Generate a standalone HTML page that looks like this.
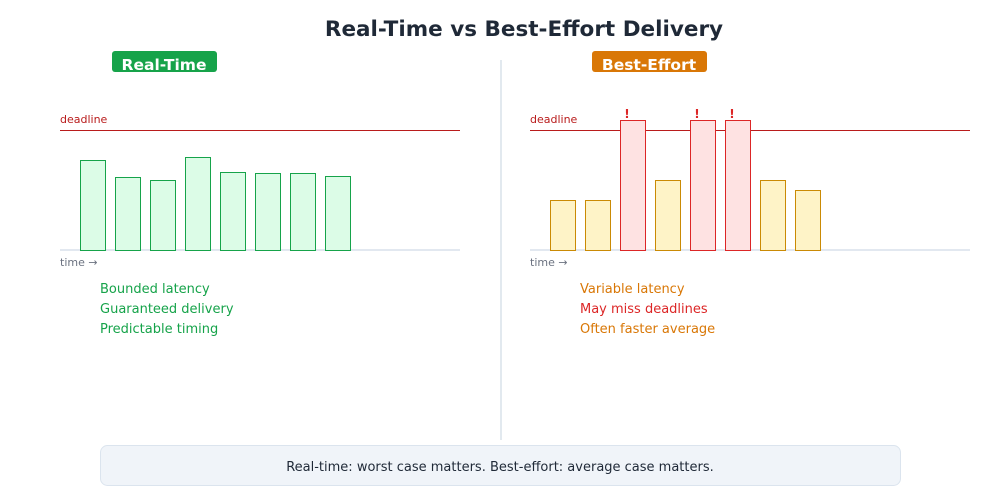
<!DOCTYPE html>
<html><head><meta charset="utf-8"><style>
body{margin:0;background:#fff;font-family:"DejaVu Sans","Liberation Sans",sans-serif}
svg text{font-family:"DejaVu Sans","Liberation Sans",sans-serif}
</style></head><body>
<svg id="c" width="1000" height="500" viewBox="0 0 1000 500">
<text x="524" y="36" text-anchor="middle" font-size="21.5" font-weight="bold" fill="#1f2937">Real-Time vs Best-Effort Delivery</text>
<line x1="501" y1="60" x2="501" y2="440" stroke="#d9e2ea" stroke-width="1.5"/>
<rect x="112" y="51" width="105" height="21" rx="3" fill="#16a34a"/>
<text x="164" y="70" text-anchor="middle" font-size="15.5" font-weight="bold" fill="#fff">Real-Time</text>
<rect x="592" y="51" width="115" height="21" rx="3" fill="#d97706"/>
<text x="649" y="70" text-anchor="middle" font-size="15.5" font-weight="bold" fill="#fff">Best-Effort</text>
<g id="plots"></g>
<g font-size="13">
<text x="100" y="293" fill="#16a34a">Bounded latency</text>
<text x="100" y="313" fill="#16a34a">Guaranteed delivery</text>
<text x="100" y="333" fill="#16a34a">Predictable timing</text>
</g>
<g font-size="13">
<text x="580" y="293" fill="#d97706">Variable latency</text>
<text x="580" y="313" fill="#dc2626">May miss deadlines</text>
<text x="580" y="333" fill="#d97706">Often faster average</text>
</g>
<rect x="100.5" y="445.5" width="800" height="40" rx="7" fill="#f0f4f9" stroke="#dbe4ee"/>
<text x="500" y="471" text-anchor="middle" font-size="13" fill="#1f2937">Real-time: worst case matters. Best-effort: average case matters.</text>
</svg>
<script>
const realTimeLatency=[90,73,70,93,78,77,77,74];
const bestEffortLatency=[50,50,130,70,130,130,70,60];
const deadlineValue=120;
const NS='http://www.w3.org/2000/svg';
const g=document.getElementById('plots');
function mk(t,a){const e=document.createElementNS(NS,t);for(const k in a)e.setAttribute(k,a[k]);g.appendChild(e);return e;}
const baseY=250;
function y(v){return baseY-v;}
function panel(x0,w,data,prefix,isBest){
  const bl=mk('line',{x1:x0,y1:baseY,x2:x0+w,y2:baseY,stroke:'#e2e8f0','stroke-width':2});
  
  
  const dl=mk('line',{x1:x0,y1:y(deadlineValue)+0.5,x2:x0+w,y2:y(deadlineValue)+0.5,stroke:'#b91c1c','stroke-width':1});
  
  
  const dt=mk('text',{x:x0,y:y(deadlineValue)-7,'font-size':11,fill:'#b91c1c'});dt.textContent='deadline';
  
  
  const tt=mk('text',{x:x0,y:baseY+16,'font-size':11,fill:'#6b7280'});tt.textContent='time \u2192';
  
  
  data.forEach((v,i)=>{
    const bx=x0+20+i*35;
    const miss=v>deadlineValue;
    let fill,stroke;
    if(!isBest){fill='#dcfce7';stroke='#16a34a';}
    else if(miss){fill='#fee2e2';stroke='#dc2626';}
    else{fill='#fef3c7';stroke='#ca8a04';}
    const r=mk('rect',{x:bx+0.5,y:y(v)+0.5,width:25,height:v,fill:fill,stroke:stroke,'stroke-width':1});
    
    
    if(miss){
      const m=mk('text',{x:bx+7,y:y(v)-2,'font-size':12,'font-weight':'bold',fill:'#dc2626','text-anchor':'middle'});m.textContent='!';
      
      
    }
  });
}
panel(60,400,realTimeLatency,'real-time',false);
panel(530,440,bestEffortLatency,'best-effort',true);
</script>
</body></html>
